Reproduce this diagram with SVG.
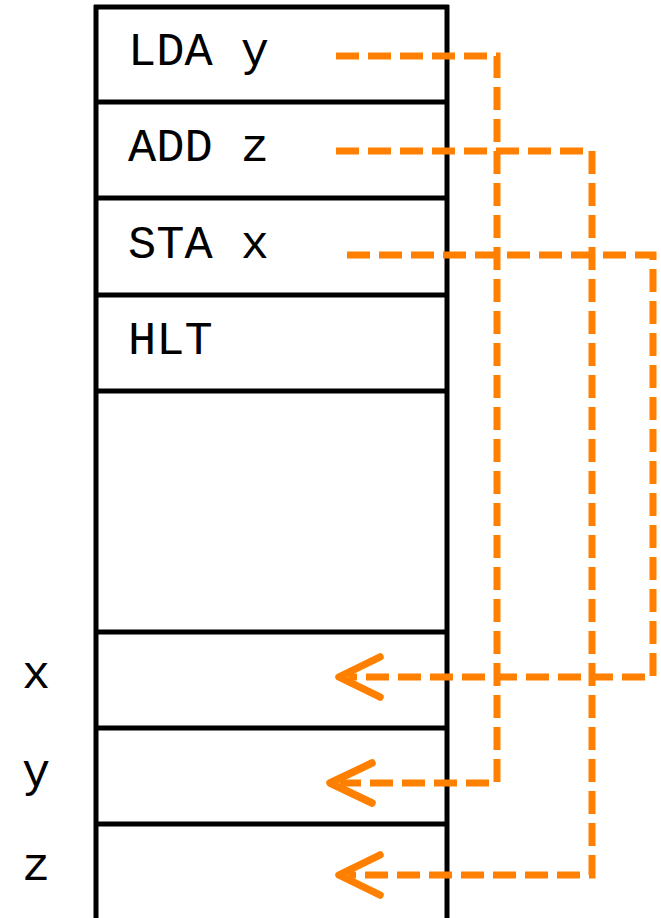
<svg xmlns="http://www.w3.org/2000/svg" width="661" height="918" viewBox="0 0 661 918">
  <style>
    .cell { fill: none; stroke: #000; stroke-width: 5; }
    .txt { font-family: "Courier New", Courier, "Nimbus Mono PS", "Nimbus Mono L", FreeMono, "Liberation Mono", monospace; font-size: 47px; fill: #000; }
    .link { fill: none; stroke: #FF8000; stroke-width: 7; stroke-dasharray: 23 9; }
    .head { fill: none; stroke: #FF8000; stroke-width: 7.5; stroke-linecap: round; stroke-linejoin: round; }
  </style>
  <rect x="0" y="0" width="661" height="918" fill="#fff"/>

  <!-- memory column -->
  <g id="memory">
    <line class="cell" x1="96" y1="5" x2="96" y2="918"/>
    <line class="cell" x1="447" y1="5" x2="447" y2="918"/>
    <line class="cell" x1="94" y1="7" x2="449" y2="7"/>
    <line class="cell" x1="96" y1="102" x2="447" y2="102"/>
    <line class="cell" x1="96" y1="198" x2="447" y2="198"/>
    <line class="cell" x1="96" y1="295" x2="447" y2="295"/>
    <line class="cell" x1="96" y1="391" x2="447" y2="391"/>
    <line class="cell" x1="96" y1="632" x2="447" y2="632"/>
    <line class="cell" x1="96" y1="728" x2="447" y2="728"/>
    <line class="cell" x1="96" y1="824" x2="447" y2="824"/>
  </g>

  <g id="cell-lda"><text class="txt" x="128" y="65">LDA y</text></g>
  <g id="cell-add"><text class="txt" x="128" y="161">ADD z</text></g>
  <g id="cell-sta"><text class="txt" x="128" y="258">STA x</text></g>
  <g id="cell-hlt"><text class="txt" x="128" y="354">HLT</text></g>

  <g id="label-x"><text class="txt" x="22" y="688">x</text></g>
  <g id="label-y"><text class="txt" x="22" y="786">y</text></g>
  <g id="label-z"><text class="txt" x="22" y="880">z</text></g>

  <!-- operand references -->
  <g id="connectors">
    <polyline class="link" points="336,56 497,56 497,783 340,783"/>
    <polyline class="head" points="372,763 330,783 372,803"/>

    <polyline class="link" points="336,151 592,151 592,875 348,875"/>
    <polyline class="head" points="380,855 339,875 380,895"/>

    <polyline class="link" points="347,255 653,255 653,677 348,677"/>
    <polyline class="head" points="380,657 339,677 380,697"/>
  </g>
</svg>
